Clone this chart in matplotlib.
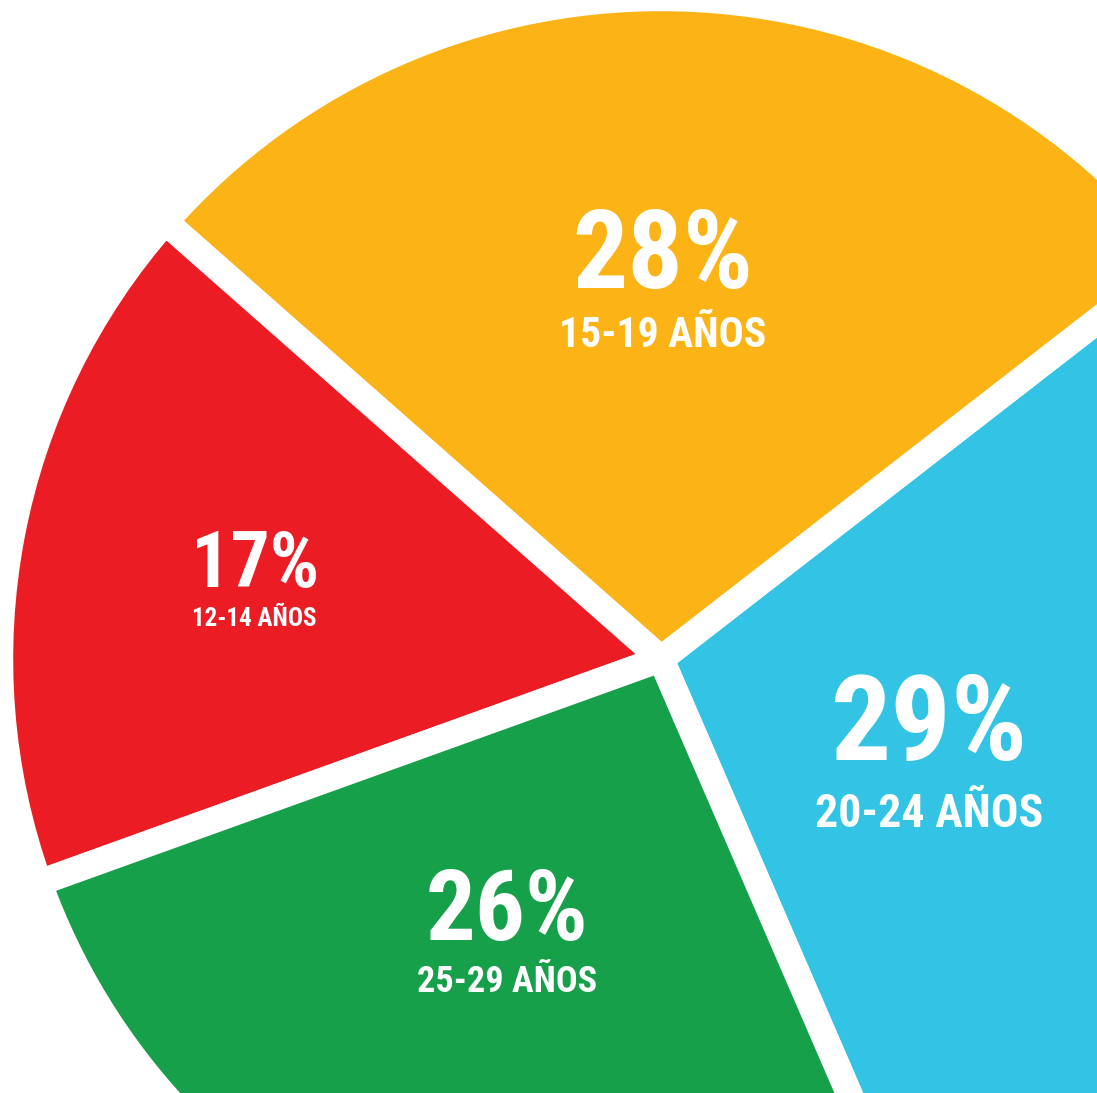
import matplotlib
matplotlib.use('Agg')
import matplotlib.pyplot as plt

# shares by age group (counterclockwise from the lower right)
groups = ['20-24 AÑOS', '15-19 AÑOS', '12-14 AÑOS', '25-29 AÑOS']
shares = [29, 28, 17, 26]
colors = ['#33C3E5', '#FBB316', '#EC1C24', '#16A04A']

W, H = 1097, 1093
cx, cy, scale = 661, 659, 661.0   # pie centre in pixels, pixels per unit radius

fig = plt.figure(figsize=(W / 100, H / 100), dpi=100)
ax = fig.add_axes([0, 0, 1, 1])
ax.pie(shares, colors=colors, startangle=-66.6, counterclock=True,
       radius=1.0, center=(0, 0),
       wedgeprops=dict(edgecolor='white', linewidth=19, joinstyle='round'))
ax.set_xlim(-cx / scale, (W - cx) / scale)
ax.set_ylim(-(H - cy) / scale, cy / scale)
ax.set_aspect('equal')
ax.axis('off')

fam = ['Roboto Condensed', 'DejaVu Sans']

# label anchors (pixels, centre x / baseline y) and sizes (pt)
big_pos = [(929, 760), (663, 288), (255, 587), (507, 940)]
small_pos = [(929, 827), (663, 347), (254, 626), (507, 992)]
big_size = [86, 79, 56, 71]
small_size = [33, 30, 18, 26]

for g, s, bp, sp, bs, ss in zip(groups, shares, big_pos, small_pos,
                                big_size, small_size):
    ax.text((bp[0] - cx) / scale, (cy - bp[1]) / scale, f'{s}%',
            ha='center', va='baseline', color='white', fontsize=bs,
            fontweight='bold', fontstretch='condensed', family=fam)
    ax.text((sp[0] - cx) / scale, (cy - sp[1]) / scale, g,
            ha='center', va='baseline', color='white', fontsize=ss,
            fontweight='bold', fontstretch='condensed', family=fam)

fig.savefig('out.png', dpi=100, facecolor='white')
